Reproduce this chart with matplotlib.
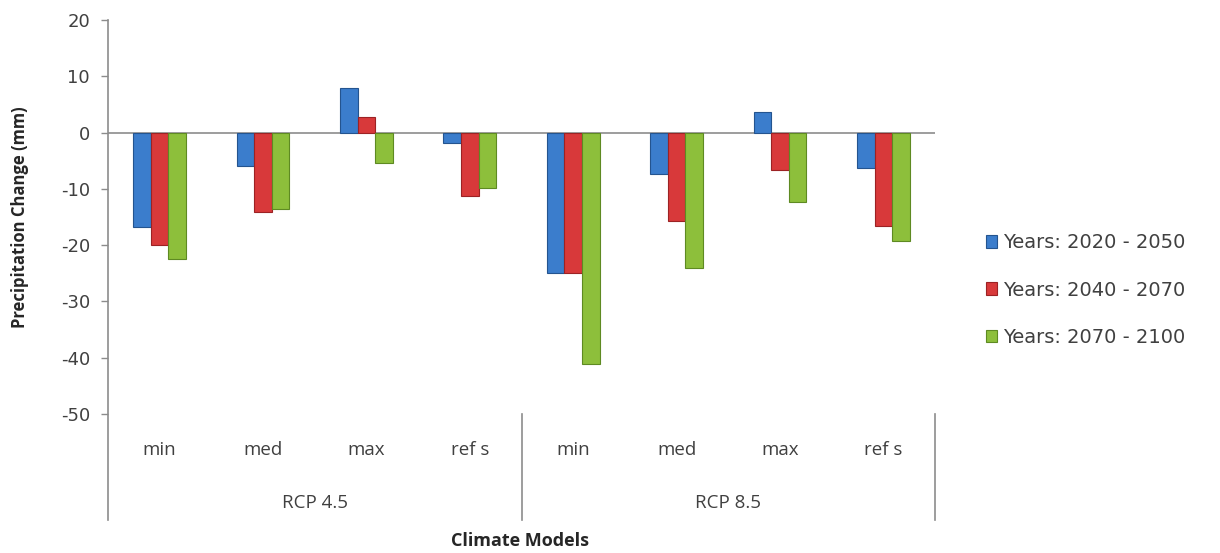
# precipitation change by climate model, grouped bars

import matplotlib
matplotlib.use("Agg")
import matplotlib.pyplot as plt
import numpy as np

plt.rcParams["axes.unicode_minus"] = False

# data
scenarios = ["RCP 4.5", "RCP 8.5"]
models = ["min", "med", "max", "ref s"]
series_names = ["Years: 2020 - 2050", "Years: 2040 - 2070", "Years: 2070 - 2100"]
y_2020_2050 = [-16.7, -5.9, 8.0, -1.8, -25.0, -7.3, 3.7, -6.3]
y_2040_2070 = [-20.0, -14.2, 2.7, -11.2, -25.0, -15.7, -6.6, -16.6]
y_2070_2100 = [-22.5, -13.5, -5.4, -9.8, -41.1, -24.0, -12.4, -19.2]

colors = ["#3b7dcc", "#d8393a", "#8dbf3b"]
edges = ["#24548f", "#9c2224", "#5e8a22"]
grey = "#8c8c8c"

fig = plt.figure(figsize=(12.2, 5.53), dpi=100)
ax = fig.add_axes([108 / 1220, 1 - 414 / 553, (935 - 108) / 1220, 394 / 553])

x = np.arange(len(models) * len(scenarios))
w = 0.17
for i, vals in enumerate([y_2020_2050, y_2040_2070, y_2070_2100]):
    ax.bar(x + (i - 1) * w, vals, width=w, color=colors[i], edgecolor=edges[i],
           linewidth=0.8, label=series_names[i], zorder=3)

ax.axhline(0, color=grey, lw=1.2, zorder=2)
ax.set_xlim(-0.5, len(x) - 0.5)
ax.set_ylim(-50, 20)
ax.set_yticks(range(-50, 21, 10))
ax.tick_params(axis="y", labelsize=13, colors=grey, labelcolor="#404040",
               length=5, width=1, direction="out", pad=8)
ax.set_xticks([])
for s in ["top", "right", "bottom", "left"]:
    ax.spines[s].set_visible(False)

tr = ax.get_xaxis_transform()
# left axis line runs down through the label area
ax.plot([-0.5, -0.5], [1, -0.269], transform=tr, color=grey, lw=1.2, clip_on=False)
# group dividers
for xd in [3.5, 7.5]:
    ax.plot([xd, xd], [0, -0.269], transform=tr, color=grey, lw=1.2, clip_on=False)

# category labels
for j, xi in enumerate(x):
    ax.text(xi, -0.091, models[j % len(models)], transform=tr, ha="center", va="center",
            fontsize=13.5, family="Open Sans", color="#404040")
for k, sc in enumerate(scenarios):
    ax.text(k * 4 + 1.5, -0.226, sc, transform=tr, ha="center", va="center",
            fontsize=13.5, family="Open Sans", color="#404040")

fig.text(520 / 1220, 1 - 541 / 553, "Climate Models", ha="center", va="center",
         fontsize=13, fontweight="bold", family="Open Sans", color="#262626")
fig.text(20 / 1220, 1 - 217 / 553, "Precipitation Change (mm)", rotation=90,
         ha="center", va="center", fontsize=12, fontweight="bold",
         family="Open Sans", color="#262626")

leg = ax.legend(loc="center left", bbox_to_anchor=(968 / 1220, 1 - 290 / 553),
                bbox_transform=fig.transFigure, frameon=False, fontsize=14,
                handlelength=0.6, handleheight=0.6, handletextpad=0.3,
                labelspacing=1.45)
for t in leg.get_texts():
    t.set_color("#404040")

fig.savefig("out.png", dpi=100)
